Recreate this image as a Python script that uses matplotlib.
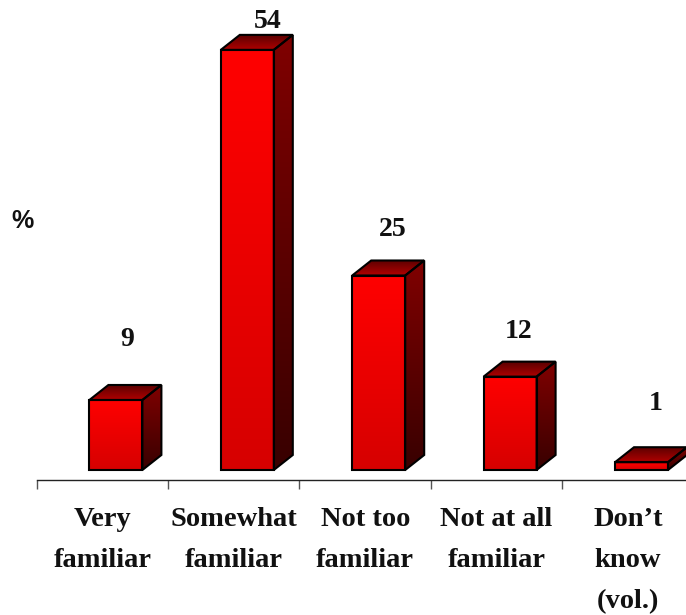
import numpy as np
import matplotlib
matplotlib.use('Agg')
import matplotlib.pyplot as plt
from matplotlib.colors import LinearSegmentedColormap
from matplotlib.patches import Polygon

categories = ['Very\nfamiliar', 'Somewhat\nfamiliar', 'Not too\nfamiliar', 'Not at all\nfamiliar', "Don\u2019t\nknow\n(vol.)"]
values = [9, 54, 25, 12, 1]

# size of the fake 3d look, in pixels
PX_PER_CAT = 131.4
PX_PER_PCT = 7.78
bar_w = 53 / PX_PER_CAT
depth_x = 19 / PX_PER_CAT
depth_y = 15 / PX_PER_PCT
shift = 13.5 / PX_PER_CAT
# value label offsets from the back top edge of each bar, pixels
label_dx = [2, 11, 5, -1, 5]
label_dy = [45, 13, 31, 30, 44]

W, H = 686, 615
plt.rcParams['font.family'] = ['Liberation Serif', 'DejaVu Serif']
fig = plt.figure(figsize=(W / 100, H / 100), dpi=100)
ax = fig.add_axes([36.7 / W, (H - 480) / H, (W - 36.7) / W, 480 / H])
ax.set_facecolor('none')

front_cm = LinearSegmentedColormap.from_list('front', ['#ff0000', '#d60000'])
side_cm = LinearSegmentedColormap.from_list('side', ['#800000', '#380000'])
top_cm = LinearSegmentedColormap.from_list('top', ['#5c0000', '#b00000'])
grad = np.linspace(0, 1, 256).reshape(-1, 1)


def face(pts, cmap):
    xs = [p[0] for p in pts]
    ys = [p[1] for p in pts]
    img = ax.imshow(grad, cmap=cmap, aspect='auto', origin='upper', zorder=2,
                    extent=(min(xs), max(xs), min(ys), max(ys)))
    outline = Polygon(pts, closed=True, fc='none', ec='black', lw=1.5, zorder=3, joinstyle='miter')
    ax.add_patch(outline)
    img.set_clip_path(outline)


for i, v in enumerate(values):
    x0 = i + shift - bar_w / 2
    x1 = x0 + bar_w
    face([(x0, 0), (x1, 0), (x1, v), (x0, v)], front_cm)
    face([(x1, 0), (x1 + depth_x, depth_y), (x1 + depth_x, v + depth_y), (x1, v)], side_cm)
    face([(x0, v), (x1, v), (x1 + depth_x, v + depth_y), (x0 + depth_x, v + depth_y)], top_cm)
    ax.annotate(str(v), (x0 + bar_w / 2 + depth_x / 2, v + depth_y),
                xytext=(label_dx[i] * 0.72, label_dy[i] * 0.72),
                textcoords='offset points', ha='center', va='center', fontsize=20,
                fontweight='bold', color='#111111', annotation_clip=False)

ax.set_xlim(-0.5, -0.5 + (W - 36.7) / PX_PER_CAT)
ax.set_ylim(-10 / PX_PER_PCT, 470 / PX_PER_PCT)

for s in ['top', 'left', 'right']:
    ax.spines[s].set_visible(False)
ax.spines['bottom'].set_linewidth(1.0)
ax.spines['bottom'].set_color('#222222')
ax.set_yticks([])
ax.set_xticks(np.arange(len(values)) - 0.5)
ax.set_xticklabels([])
ax.tick_params(axis='x', which='major', length=6.5, width=1.0, color='#555555')
ax.set_xticks(np.arange(len(values)), minor=True)
ax.set_xticklabels(categories, minor=True, fontsize=20.5, fontweight='bold', color='#111111',
                   linespacing=1.84)
ax.tick_params(axis='x', which='minor', length=0, pad=19.5)

fig.text(22 / W, 1 - 221 / H, '%', fontsize=18, fontweight='bold', color='#111111',
         ha='center', va='center', family=['Liberation Sans', 'DejaVu Sans'])

fig.savefig('out.png', dpi=100)
